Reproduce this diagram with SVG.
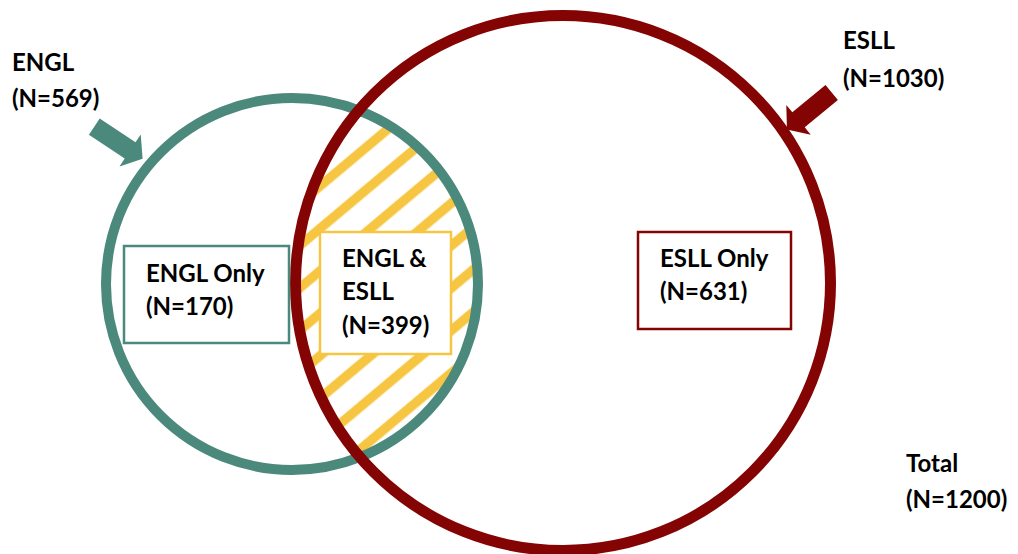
<svg xmlns="http://www.w3.org/2000/svg" width="1018" height="554" viewBox="0 0 1018 554">
  <style>
    .lbl { font-family: Lato, "Liberation Sans", sans-serif; font-weight: bold; font-size: 24px; fill: #000; }
    .box { fill: #fff; stroke-width: 2.5; }
    .ring { fill: none; }
  </style>
  <defs>
    <pattern id="hatch" patternUnits="userSpaceOnUse" width="32.5" height="32.5" patternTransform="rotate(-40)">
      <rect x="0" y="18.5" width="32.5" height="9.5" fill="#F6C643"/>
    </pattern>
    <clipPath id="clipG"><circle cx="292" cy="284" r="186"/></clipPath>
    <clipPath id="clipR"><circle cx="563" cy="283" r="267.5"/></clipPath>
    <path id="arrow" d="M0,-9.75 L43,-9.75 L43,-19.2 L58,0 L43,19.2 L43,9.75 L0,9.75 Z"/>
  </defs>
  <rect width="1018" height="554" fill="#fff"/>

  <g id="overlap-hatch" clip-path="url(#clipG)">
    <g clip-path="url(#clipR)">
      <rect x="0" y="0" width="1018" height="554" fill="url(#hatch)"/>
    </g>
  </g>

  <g id="engl-circle">
    <circle class="ring" cx="292" cy="284" r="186" stroke="#4A897B" stroke-width="10"/>
  </g>
  <g id="esll-circle">
    <circle class="ring" cx="563" cy="283" r="267.5" stroke="#840404" stroke-width="11"/>
  </g>

  <g id="connectors">
    <use href="#arrow" fill="#4A897B" transform="translate(94.3,126.7) rotate(33.6)"/>
    <use href="#arrow" fill="#840404" transform="translate(831.7,92.5) rotate(140.5)"/>
  </g>

  <g id="engl-label">
    <text class="lbl" x="12" y="71">ENGL</text>
    <text class="lbl" x="12" y="107">(N=569)</text>
  </g>
  <g id="esll-label">
    <text class="lbl" x="843" y="49">ESLL</text>
    <text class="lbl" x="843" y="87">(N=1030)</text>
  </g>
  <g id="total-label">
    <text class="lbl" x="906" y="472">Total</text>
    <text class="lbl" x="906" y="508">(N=1200)</text>
  </g>

  <g id="engl-only">
    <rect class="box" x="124" y="246" width="165" height="97" stroke="#4A897B"/>
    <text class="lbl" x="146" y="282">ENGL Only</text>
    <text class="lbl" x="146" y="315">(N=170)</text>
  </g>
  <g id="engl-esll">
    <rect class="box" x="320" y="232" width="131" height="122" stroke="#F6C643"/>
    <text class="lbl" x="342" y="267">ENGL &amp;</text>
    <text class="lbl" x="342" y="300">ESLL</text>
    <text class="lbl" x="342" y="334">(N=399)</text>
  </g>
  <g id="esll-only">
    <rect class="box" x="638" y="232" width="153" height="97" stroke="#840404"/>
    <text class="lbl" x="660" y="267">ESLL Only</text>
    <text class="lbl" x="660" y="300">(N=631)</text>
  </g>
</svg>
